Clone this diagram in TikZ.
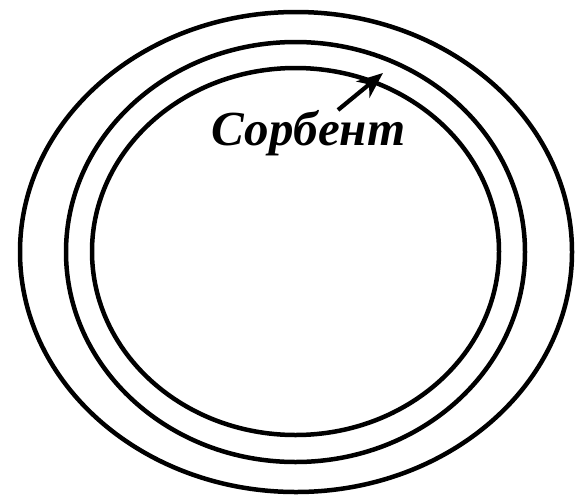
\documentclass[tikz,border=0pt]{standalone}
\usepackage{fontspec}
\setmainfont{Liberation Serif}
\usepackage{tikz}
\usetikzlibrary{arrows.meta}
\definecolor{cnegro}{HTML}{000000}
\tikzset{
  kontur/.style={draw=cnegro, line width=4.5pt},
  strelka/.style={-{Stealth[length=26pt, width=21pt, inset=8pt]}, line width=4.2pt, draw=cnegro},
  nadpis/.style={font=\fontsize{49}{52}\selectfont\bfseries\itshape, text=cnegro, inner sep=0pt},
}
\begin{document}
\begin{tikzpicture}[x=1pt, y=-1pt]
  \useasboundingbox (0,0) rectangle (575,496);
  % tri kontura
  \draw[kontur] (296,252) ellipse [x radius=276, y radius=240];
  \draw[kontur] (295.5,252) ellipse [x radius=229.5, y radius=210];
  \draw[kontur] (295.5,251.5) ellipse [x radius=203.5, y radius=183.5];
  % podpis
  \node[nadpis, anchor=base] (sorbent) at (308.5,145) {Сорбент};
  \coordinate (hvost) at (338,110);
  \coordinate (tip) at (383,73);
  \draw[strelka] (hvost) -- (tip);
\end{tikzpicture}
\end{document}
